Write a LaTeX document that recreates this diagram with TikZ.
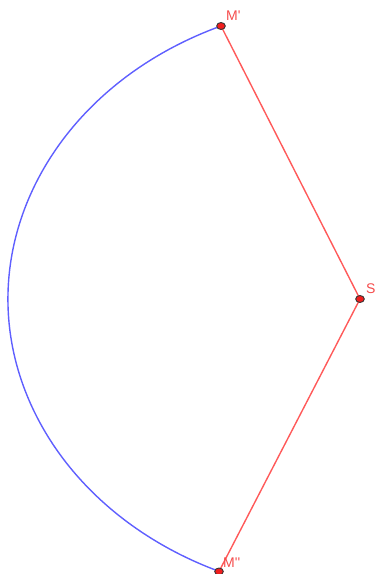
\documentclass[tikz,border=0pt]{standalone}
\usepackage{fontspec}
\usetikzlibrary{shapes.geometric}
\newfontfamily\labelfont{Liberation Sans}
\definecolor{segred}{RGB}{255,90,90}
\definecolor{labred}{RGB}{245,75,75}
\definecolor{dotred}{RGB}{240,30,30}
\definecolor{arcblue}{RGB}{95,95,255}
\begin{document}
\begin{tikzpicture}[x=1pt,y=-1pt,
  seg/.style={draw=segred,line width=1.4pt},
  arcline/.style={draw=arcblue,line width=1.4pt},
  ptdot/.style={ellipse,draw=black!80,fill=dotred,line width=0.9pt,minimum width=8.6pt,minimum height=7pt,inner sep=0pt},
  lab/.style={anchor=base west,inner sep=0pt,text=labred,font=\labelfont\fontsize{14}{16}\selectfont}]
\useasboundingbox (0,0) rectangle (377,574);
\coordinate (Mp) at (221,26);
\coordinate (S) at (360,299);
\coordinate (Mpp) at (219,571.5);
\draw[arcline] (Mp) arc[start angle=113.26,end angle=246.36,x radius=352pt,y radius=297.2pt];
\draw[seg] (Mp) -- (S) -- (Mpp);
\node[ptdot] (dMp) at (Mp) {};
\node[ptdot] (dS) at (S) {};
\node[ptdot] (dMpp) at (Mpp) {};
\node[lab] (lMp) at (226,20) {M\textquotesingle};
\node[lab] (lS) at (366,293) {S};
\node[lab] (lMpp) at (223,567) {M\textquotesingle\textquotesingle};
\end{tikzpicture}
\end{document}
